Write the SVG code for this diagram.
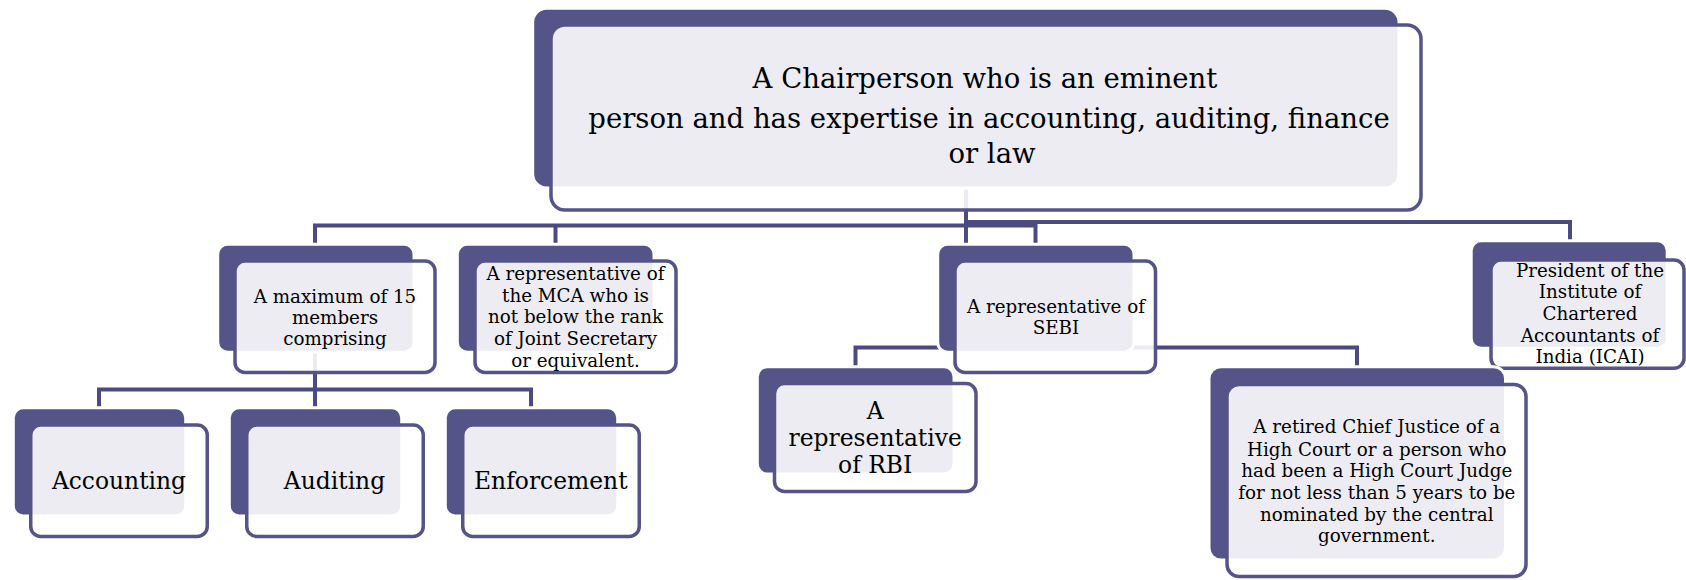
<svg xmlns="http://www.w3.org/2000/svg" width="1686" height="580" viewBox="0 0 1686 580">
  <style>
    .back { fill: #545489; stroke: #ffffff; stroke-width: 3; }
    .front { fill: #ffffff; fill-opacity: 0.89; stroke: #545489; stroke-width: 3.5; }
    .conn { fill: none; stroke: #4b4b82; stroke-width: 4; }
    text { font-family: "DejaVu Serif", "Liberation Serif", serif; fill: #000000; text-anchor: middle; }
    .t-top { font-size: 27.5px; }
    .t-mid { font-size: 18.3px; }
    .t-big { font-size: 23.4px; }
  </style>

  <!-- Org chart connectors (drawn beneath the boxes) -->
  <g id="connectors">
    <path class="conn" d="M966 180 V246"/>
    <path class="conn" d="M315 246 V225.5 H1035.5 V246"/>
    <path class="conn" d="M555.5 225.5 V246"/>
    <path class="conn" d="M966 222 H1570 V242"/>
    <path class="conn" d="M315 350 V408"/>
    <path class="conn" d="M99 409 V389.5 H531 V409"/>
    <path class="conn" d="M855.5 368 V347.5 H1357 V368"/>
  </g>

  <g id="chairperson">
    <rect class="back" x="532.7" y="8.3" width="866.3" height="179.7" rx="14"/>
    <rect class="front" x="551" y="25" width="870" height="185" rx="14"/>
    <text class="t-top" x="985" y="87.7">A Chairperson who is an eminent</text>
    <text class="t-top" x="989" y="127.7">person and has expertise in accounting, auditing, finance</text>
    <text class="t-top" x="992" y="163.3">or law</text>
  </g>

  <g id="members">
    <rect class="back" x="217.7" y="244.3" width="196.3" height="108" rx="10"/>
    <rect class="front" x="235" y="261" width="200" height="111.5" rx="10"/>
    <text class="t-mid" x="335" y="303.3">A maximum of 15</text>
    <text class="t-mid" x="335" y="324.3">members</text>
    <text class="t-mid" x="335" y="345.3">comprising</text>
  </g>

  <g id="mca">
    <rect class="back" x="457.3" y="244.3" width="196.7" height="108" rx="10"/>
    <rect class="front" x="475" y="261" width="201" height="111.5" rx="10"/>
    <text class="t-mid" x="575.5" y="280">A representative of</text>
    <text class="t-mid" x="575.5" y="301.7">the MCA who is</text>
    <text class="t-mid" x="575.5" y="323.3">not below the rank</text>
    <text class="t-mid" x="575.5" y="345">of Joint Secretary</text>
    <text class="t-mid" x="575.5" y="366.5">or equivalent.</text>
  </g>

  <g id="sebi">
    <rect class="back" x="937.7" y="244.3" width="196.3" height="108" rx="10"/>
    <rect class="front" x="955" y="261" width="200.5" height="111.5" rx="10"/>
    <text class="t-mid" x="1056" y="313.3">A representative of</text>
    <text class="t-mid" x="1056" y="334.3">SEBI</text>
  </g>

  <g id="icai">
    <rect class="back" x="1471.2" y="240.7" width="196" height="107.6" rx="10"/>
    <rect class="front" x="1491" y="260" width="193" height="108.3" rx="10"/>
    <text class="t-mid" x="1590" y="276.7">President of the</text>
    <text class="t-mid" x="1590" y="298.3">Institute of</text>
    <text class="t-mid" x="1590" y="320">Chartered</text>
    <text class="t-mid" x="1590" y="341.7">Accountants of</text>
    <text class="t-mid" x="1590" y="363.3">India (ICAI)</text>
  </g>

  <g id="accounting">
    <rect class="back" x="13.3" y="407.7" width="172.4" height="108.3" rx="10"/>
    <rect class="front" x="30.75" y="425" width="176.5" height="111.5" rx="10"/>
    <text class="t-big" x="119" y="489.3">Accounting</text>
  </g>

  <g id="auditing">
    <rect class="back" x="229.3" y="407.7" width="172.4" height="108.3" rx="10"/>
    <rect class="front" x="246.75" y="425" width="176.5" height="111.5" rx="10"/>
    <text class="t-big" x="334.5" y="489.3">Auditing</text>
  </g>

  <g id="enforcement">
    <rect class="back" x="445.3" y="407.7" width="172.4" height="108.3" rx="10"/>
    <rect class="front" x="462.75" y="425" width="176.5" height="111.5" rx="10"/>
    <text class="t-big" x="550.8" y="489.3">Enforcement</text>
  </g>

  <g id="rbi">
    <rect class="back" x="757.3" y="366.7" width="196.7" height="107.3" rx="10"/>
    <rect class="front" x="774.5" y="383.5" width="201.5" height="108" rx="10"/>
    <text class="t-big" x="875.2" y="419.3">A</text>
    <text class="t-big" x="875.2" y="446">representative</text>
    <text class="t-big" x="875.2" y="472.7">of RBI</text>
  </g>

  <g id="chief-justice">
    <rect class="back" x="1209" y="366.7" width="296.5" height="193.3" rx="12"/>
    <rect class="front" x="1227" y="384.5" width="299" height="192" rx="12"/>
    <text class="t-mid" x="1376.8" y="433.3">A retired Chief Justice of a</text>
    <text class="t-mid" x="1376.8" y="455.7">High Court or a person who</text>
    <text class="t-mid" x="1376.8" y="477.3">had been a High Court Judge</text>
    <text class="t-mid" x="1376.8" y="499.3">for not less than 5 years to be</text>
    <text class="t-mid" x="1376.8" y="520.5">nominated by the central</text>
    <text class="t-mid" x="1376.8" y="541.7">government.</text>
  </g>
</svg>
